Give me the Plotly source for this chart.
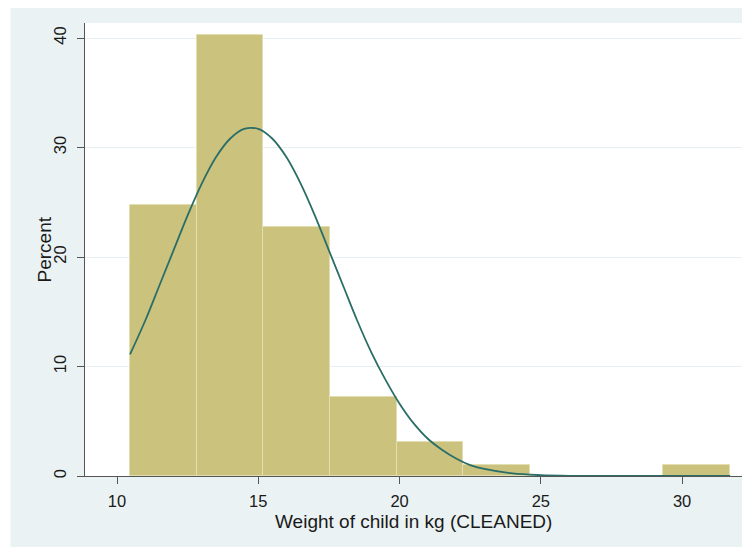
import plotly.graph_objects as go

# Histogram data
bin_edges = [10.46, 12.82, 15.18, 17.54, 19.90, 22.26, 24.62, 26.98, 29.34, 31.70]
percent = [24.75, 40.3, 22.7, 7.2, 3.1, 1.05, 0.0, 0.0, 1.05]

# Normal density overlay (in percent)
curve_x = [10.46, 11.0, 11.5, 12.0, 12.5, 13.0, 13.5, 14.0, 14.5, 15.0, 15.5, 16.0,
           16.5, 17.0, 17.5, 18.0, 18.5, 19.0, 19.5, 20.0, 20.5, 21.0, 21.5, 22.0,
           22.5, 23.0, 24.0, 25.0, 26.0, 28.0, 31.70]
curve_y = [11.1, 14.2, 17.4, 20.6, 23.8, 26.7, 29.1, 30.8, 31.7, 31.7, 30.8, 29.1,
           26.7, 23.8, 20.6, 17.4, 14.2, 11.3, 8.8, 6.6, 4.8, 3.4, 2.4, 1.6,
           1.0, 0.65, 0.24, 0.08, 0.02, 0.0, 0.0]

x_ticks = [10, 15, 20, 25, 30]
y_ticks = [0, 10, 20, 30, 40]
x_title = "Weight of child in kg (CLEANED)"
y_title = "Percent"

centers = [(a + b) / 2 for a, b in zip(bin_edges[:-1], bin_edges[1:])]
widths = [b - a for a, b in zip(bin_edges[:-1], bin_edges[1:])]

fig = go.Figure()
fig.add_trace(go.Bar(
    x=centers, y=percent, width=widths,
    marker=dict(color="#CBC27E", line=dict(color="#E3DEB2", width=1)),
    hoverinfo="skip", showlegend=False,
))
fig.add_trace(go.Scatter(
    x=curve_x, y=curve_y, mode="lines", line=dict(color="#2B6E68", width=1.8, shape="spline"),
    showlegend=False, hoverinfo="skip",
))

tick_font = dict(family="Liberation Sans, Arial, sans-serif", size=16.5, color="#1a1a1a")
title_font = dict(family="Liberation Sans, Arial, sans-serif", size=19, color="#1a1a1a")

# page has an 8px body margin; work in page pixels and convert
OX, OY = 8, 8
W, H = 750 - OX, 548 - OY
PX0, PX1, PY0, PY1 = 85, 742, 23, 476  # plot area in page px
l, t = PX0 - OX, PY0 - OY
r, b = W - (PX1 - OX), H - (PY1 - OY)
pw, ph = PX1 - PX0, PY1 - PY0


def px(xp):
    return (xp - PX0) / pw


def py(yp):
    return (PY1 - yp) / ph


fig.update_layout(
    width=W, height=H,
    margin=dict(l=l, r=r, t=t, b=b, pad=0, autoexpand=False),
    paper_bgcolor="white",
    plot_bgcolor="white",
    bargap=0,
    font=tick_font,
    shapes=[
        dict(type="rect", xref="paper", yref="paper", layer="below",
             x0=px(10.5), x1=px(745), y0=py(547), y1=py(0),
             fillcolor="#EAF2F3", line=dict(width=0)),
        dict(type="rect", xref="paper", yref="paper", layer="below",
             x0=0, x1=1, y0=0, y1=1, fillcolor="white", line=dict(width=0)),
    ],
    annotations=[
        dict(text=x_title, xref="paper", yref="paper", x=px(413),
             y=py(521), xanchor="center", yanchor="middle",
             showarrow=False, font=title_font),
        dict(text=y_title, xref="paper", yref="paper", x=px(44),
             y=0.5, xanchor="center", yanchor="middle", textangle=-90,
             showarrow=False, font=title_font),
    ],
    xaxis=dict(
        range=[8.867, 32.12], tickvals=x_ticks, ticks="outside", ticklen=7,
        tickcolor="#555", showline=True, linecolor="#555", linewidth=1,
        showgrid=False, zeroline=False, tickfont=tick_font, automargin=False,
        ticklabelstandoff=3,
    ),
    yaxis=dict(
        range=[0, 41.37], tickvals=y_ticks, ticks="outside", ticklen=7,
        tickcolor="#555", showline=True, linecolor="#555", linewidth=1,
        showgrid=True, gridcolor="#E6EFF1", gridwidth=1, zeroline=False,
        tickangle=-90, tickfont=tick_font, automargin=False,
        ticklabelstandoff=4,
    ),
)

fig.write_html("out.html")
